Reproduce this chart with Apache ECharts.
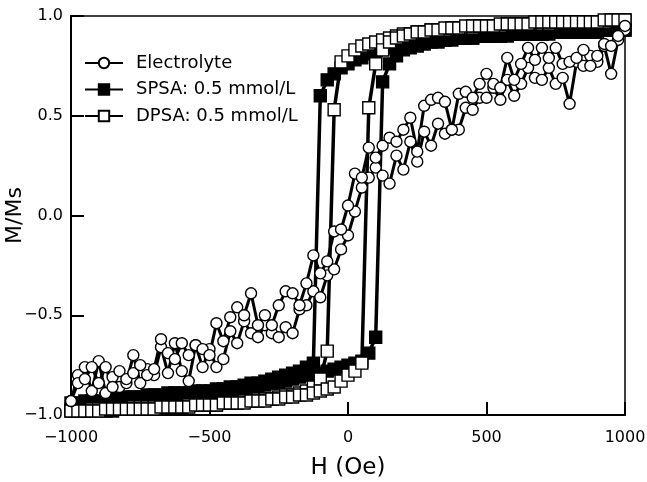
<!DOCTYPE html>
<html>
<head>
<meta charset="utf-8">
<script src="https://cdn.jsdelivr.net/npm/echarts@6/dist/echarts.min.js"></script>
<style>html,body{margin:0;padding:0;background:#fff}#c{width:647px;height:482px}</style>
</head>
<body>
<div id="c"></div>
<script>
// Applied field grid (Oe)
const fieldOe = [-1000,-975,-950,-925,-900,-875,-850,-825,-800,-775,-750,-725,-700,-675,-650,-625,-600,-575,-550,-525,-500,-475,-450,-425,-400,-375,-350,-325,-300,-275,-250,-225,-200,-175,-150,-125,-100,-75,-50,-25,0,25,50,75,100,125,150,175,200,225,250,275,300,325,350,375,400,425,450,475,500,525,550,575,600,625,650,675,700,725,750,775,800,825,850,875,900,925,950,975,1000];

// Electrolyte: two branches (M/Ms)
const elecUp = [-0.93,-0.80,-0.76,-0.88,-0.73,-0.89,-0.81,-0.86,-0.84,-0.70,-0.84,-0.77,-0.80,-0.66,-0.79,-0.64,-0.78,-0.83,-0.65,-0.76,-0.67,-0.76,-0.72,-0.58,-0.64,-0.53,-0.59,-0.61,-0.55,-0.59,-0.61,-0.56,-0.59,-0.47,-0.45,-0.38,-0.41,-0.30,-0.27,-0.17,-0.10,0.02,0.14,0.19,0.24,0.20,0.16,0.30,0.23,0.37,0.27,0.42,0.35,0.46,0.41,0.43,0.43,0.54,0.53,0.59,0.59,0.64,0.58,0.68,0.60,0.66,0.74,0.69,0.68,0.74,0.66,0.69,0.56,0.77,0.75,0.80,0.77,0.85,0.71,0.88,0.93];
const elecDown = [-0.93,-0.84,-0.82,-0.76,-0.84,-0.76,-0.86,-0.78,-0.82,-0.79,-0.75,-0.80,-0.77,-0.62,-0.69,-0.72,-0.64,-0.70,-0.65,-0.67,-0.70,-0.54,-0.63,-0.51,-0.46,-0.50,-0.39,-0.55,-0.50,-0.55,-0.45,-0.38,-0.39,-0.45,-0.34,-0.20,-0.29,-0.23,-0.08,-0.07,0.05,0.21,0.19,0.34,0.29,0.35,0.39,0.37,0.43,0.49,0.32,0.55,0.58,0.59,0.57,0.43,0.61,0.62,0.59,0.66,0.71,0.66,0.64,0.79,0.68,0.76,0.84,0.78,0.84,0.79,0.84,0.76,0.77,0.79,0.83,0.75,0.80,0.86,0.85,0.90,0.95];

// SPSA 0.5 mmol/L
const spsaDown = [-0.94,-0.94,-0.93,-0.93,-0.93,-0.92,-0.92,-0.92,-0.91,-0.91,-0.91,-0.90,-0.90,-0.90,-0.89,-0.89,-0.89,-0.89,-0.88,-0.88,-0.88,-0.87,-0.87,-0.86,-0.86,-0.85,-0.84,-0.84,-0.83,-0.82,-0.81,-0.80,-0.79,-0.78,-0.76,-0.74,0.60,0.68,0.71,0.74,0.76,0.78,0.79,0.81,0.82,0.83,0.84,0.85,0.86,0.86,0.87,0.87,0.88,0.88,0.88,0.89,0.89,0.89,0.89,0.90,0.90,0.90,0.90,0.90,0.91,0.91,0.91,0.91,0.91,0.91,0.92,0.92,0.92,0.92,0.92,0.92,0.92,0.93,0.93,0.93,0.93];
const spsaUp = [-0.97,-0.96,-0.96,-0.97,-0.97,-0.98,-0.98,-0.97,-0.97,-0.96,-0.95,-0.94,-0.93,-0.93,-0.92,-0.92,-0.91,-0.91,-0.90,-0.90,-0.89,-0.89,-0.88,-0.88,-0.87,-0.87,-0.86,-0.86,-0.85,-0.84,-0.84,-0.83,-0.82,-0.81,-0.80,-0.80,-0.79,-0.78,-0.77,-0.76,-0.75,-0.74,-0.73,-0.69,-0.61,0.67,0.76,0.80,0.83,0.84,0.85,0.86,0.87,0.87,0.88,0.88,0.89,0.89,0.89,0.90,0.90,0.90,0.90,0.91,0.91,0.91,0.91,0.91,0.91,0.92,0.92,0.92,0.92,0.92,0.92,0.92,0.92,0.93,0.93,0.93,0.93];

// DPSA 0.5 mmol/L
const dpsaDown = [-0.98,-0.98,-0.98,-0.97,-0.97,-0.97,-0.97,-0.97,-0.97,-0.96,-0.96,-0.96,-0.96,-0.96,-0.96,-0.96,-0.96,-0.95,-0.95,-0.95,-0.95,-0.95,-0.94,-0.94,-0.94,-0.93,-0.93,-0.92,-0.92,-0.92,-0.91,-0.90,-0.90,-0.89,-0.88,-0.86,-0.82,-0.68,0.53,0.77,0.80,0.83,0.85,0.86,0.87,0.88,0.89,0.90,0.91,0.91,0.92,0.92,0.93,0.93,0.93,0.94,0.94,0.94,0.94,0.95,0.95,0.95,0.95,0.96,0.96,0.96,0.96,0.96,0.96,0.96,0.97,0.97,0.97,0.97,0.97,0.97,0.97,0.97,0.98,0.98,0.98];
const dpsaUp = [-0.98,-0.98,-0.98,-0.98,-0.98,-0.97,-0.97,-0.97,-0.97,-0.97,-0.97,-0.97,-0.97,-0.96,-0.96,-0.96,-0.96,-0.96,-0.95,-0.95,-0.95,-0.95,-0.94,-0.94,-0.94,-0.94,-0.93,-0.93,-0.93,-0.92,-0.92,-0.91,-0.91,-0.90,-0.90,-0.89,-0.88,-0.87,-0.86,-0.83,-0.80,-0.78,-0.74,0.54,0.76,0.83,0.87,0.89,0.90,0.91,0.92,0.92,0.93,0.93,0.94,0.94,0.94,0.95,0.95,0.95,0.95,0.95,0.96,0.96,0.96,0.96,0.96,0.97,0.97,0.97,0.97,0.97,0.97,0.97,0.97,0.97,0.97,0.98,0.98,0.98,0.98];

const seriesNames = ['Electrolyte', 'SPSA: 0.5 mmol/L', 'DPSA: 0.5 mmol/L'];
const xTicks = [-1000, -500, 0, 500, 1000];
const yTicks = [-1.0, -0.5, 0.0, 0.5, 1.0];

const FONT = 'DejaVu Sans';
const pair = arr => arr.map((m, i) => [fieldOe[i], m]);

function squareSeries(name, values, filled) {
  return {
    name, type: 'line', data: pair(values),
    symbol: 'rect', symbolSize: 12, showSymbol: true,
    lineStyle: { color: '#000', width: 3.5 },
    itemStyle: { color: filled ? '#000' : '#fff', borderColor: '#000', borderWidth: 1.4 },
    emphasis: { disabled: true }, animation: false, clip: false
  };
}
function circleSeries(name, values) {
  return {
    name, type: 'line', data: pair(values),
    symbol: 'circle', symbolSize: 11, showSymbol: true,
    lineStyle: { color: '#000', width: 3 },
    itemStyle: { color: '#fff', borderColor: '#000', borderWidth: 1.4 },
    emphasis: { disabled: true }, animation: false, clip: false
  };
}

const chart = echarts.init(document.getElementById('c'), null, { renderer: 'canvas' });
chart.setOption({
  backgroundColor: '#fff',
  animation: false,
  grid: { left: 71, right: 22, top: 16, bottom: 67, containLabel: false, outerBoundsMode: 'none',
    show: true, borderColor: '#000', borderWidth: 1.5, backgroundColor: 'transparent' },
  legend: {
    data: seriesNames,
    left: 79, top: 49, orient: 'vertical',
    itemWidth: 38, itemHeight: 13, itemGap: 8.5,
    textStyle: { fontFamily: FONT, fontSize: 18, color: '#000', padding: [0, 0, 0, 8] },
    selectedMode: false
  },
  xAxis: {
    type: 'value', min: -1000, max: 1000, interval: 500,
    name: 'H (Oe)', nameLocation: 'middle', nameGap: 42, nameMoveOverlap: false,
    nameTextStyle: { fontFamily: FONT, fontSize: 23, color: '#000' },
    axisLine: { show: true, onZero: false, lineStyle: { color: '#000', width: 2 } },
    axisTick: { show: true, inside: true, length: 13, lineStyle: { color: '#000', width: 2 } },
    axisLabel: { fontFamily: FONT, fontSize: 16, color: '#000', margin: 15,
      formatter: v => xTicks.includes(v) ? String(v).replace('-', '\u2212') : '' },
    splitLine: { show: false }
  },
  yAxis: {
    type: 'value', min: -1, max: 1, interval: 0.5,
    name: 'M/Ms', nameLocation: 'middle', nameGap: 45, nameRotate: 90, nameMoveOverlap: false,
    nameTextStyle: { fontFamily: FONT, fontSize: 22, color: '#000' },
    axisLine: { show: true, onZero: false, lineStyle: { color: '#000', width: 2 } },
    axisTick: { show: true, inside: true, length: 13, lineStyle: { color: '#000', width: 2 } },
    axisLabel: { fontFamily: FONT, fontSize: 16, color: '#000', margin: 8,
      formatter: v => yTicks.some(t => Math.abs(t - v) < 1e-9) ? v.toFixed(1).replace('-', '\u2212') : '' },
    splitLine: { show: false }
  },
  series: [
    squareSeries(seriesNames[1], spsaDown, true),
    squareSeries(seriesNames[1], spsaUp, true),
    squareSeries(seriesNames[2], dpsaDown, false),
    squareSeries(seriesNames[2], dpsaUp, false),
    circleSeries(seriesNames[0], elecUp),
    circleSeries(seriesNames[0], elecDown)
  ]
});
</script>
</body>
</html>
